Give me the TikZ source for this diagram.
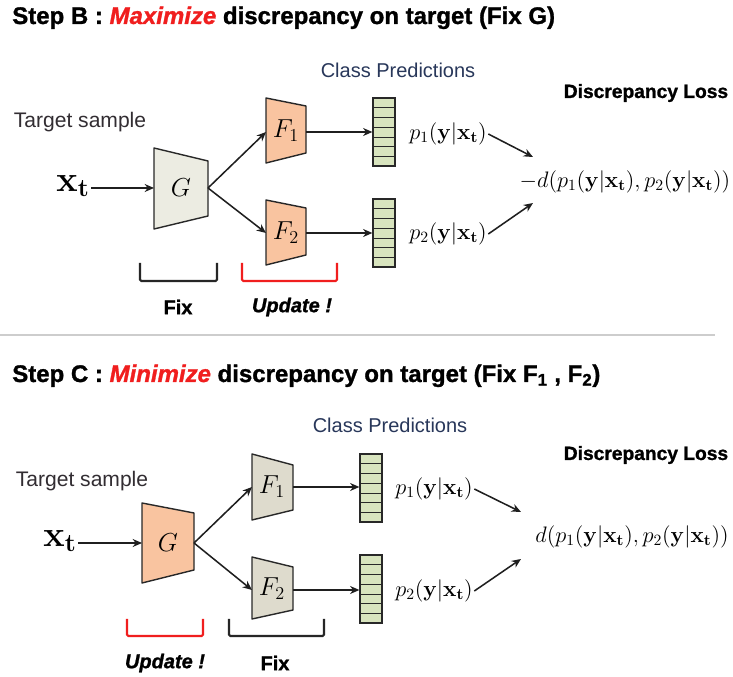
\RequirePackage{fix-cm}
\documentclass[tikz,border=0pt]{standalone}
\usepackage[no-math]{fontspec}
\setmainfont{Liberation Sans}
\newfontfamily\heavy[BoldFeatures={FakeBold=1.2},BoldItalicFeatures={FakeBold=1.2}]{Liberation Sans}
\usetikzlibrary{arrows.meta,calc}
\definecolor{salmon}{RGB}{249,196,160}
\definecolor{lgray}{RGB}{236,236,226}
\definecolor{mgray}{RGB}{222,219,205}
\definecolor{lgreen}{RGB}{216,228,190}
\definecolor{myred}{RGB}{240,30,30}
\definecolor{cpblue}{RGB}{40,55,90}
\definecolor{tsdark}{RGB}{50,45,50}
\definecolor{sepgray}{RGB}{205,205,205}
\definecolor{edge}{RGB}{40,40,40}
\tikzset{
  conn/.style={draw=black!88, line width=1.15pt, -{Stealth[length=7pt,width=6pt]}},
  trap/.style={draw=edge, line width=1.05pt, line join=round},
  bar/.style={draw=edge, fill=lgreen, line width=0.9pt, minimum width=16.5pt, minimum height=51pt, inner sep=0pt},
  cellline/.style={draw=edge, line width=0.6pt},
  brk/.style={line width=1.6pt, rounded corners=1pt},
  title/.style={anchor=base west, inner sep=0pt, font=\fontsize{18}{20}\selectfont\heavy\bfseries},
  cls/.style={font=\fontsize{15}{17}\selectfont, text=cpblue, inner sep=1pt},
  loss/.style={font=\fontsize{14.4}{16}\selectfont\heavy\bfseries, inner sep=1pt},
  ts/.style={font=\fontsize{15.8}{17}\selectfont, text=tsdark, inner sep=1pt},
  xtlab/.style={font=\fontsize{27}{30}\selectfont, inner sep=1pt},
  lab/.style={font=\fontsize{19.5}{22}\selectfont, inner sep=0pt},
  pl/.style={font=\fontsize{16.8}{18}\selectfont, inner sep=1pt},
  dl/.style={font=\fontsize{16.8}{19}\selectfont, inner sep=1pt},
  brklab/.style={font=\fontsize{15}{17}\selectfont\heavy\bfseries, inner sep=1pt},
  sepline/.style={draw=sepgray, line width=1.5pt}
}
\newcommand\cells[1]{%
  \foreach \k in {1,...,6}
    \draw[cellline] ($(#1.north west)!\k/7!(#1.south west)$) -- ($(#1.north east)!\k/7!(#1.south east)$);}
\begin{document}
\begin{tikzpicture}[x=0.75pt,y=-0.75pt]
\fill[white] (0,0) rectangle (733,677);
\path[use as bounding box] (0,0) rectangle (733,677);

% titles
\node[title] (tB) at (12,24) {Step B : \textcolor{myred}{\itshape Maximize} discrepancy on target (Fix G)};
\node[title] (tC) at (12,382) {Step C : \textcolor{myred}{\itshape Minimize} discrepancy on target (Fix F\textsubscript{1} , F\textsubscript{2})};

% separator
\draw[sepline] (0,335) -- (715,335);

% ================= Step B =================
\node[cls] (cpB) at (398,70) {Class Predictions};
\node[loss] (dlB) at (646,93) {Discrepancy Loss};
\node[ts] (tsB) at (80,122) {Target sample};
\node[xtlab] (xB) at (73,186) {$\mathbf{x_t}$};

\filldraw[trap, fill=lgray] (154,148) -- (208,161) -- (208,216) -- (154,229) -- cycle;
\node[lab] (GB) at (181,188) {$G$};
\coordinate (GBin) at (154,188);
\coordinate (GBout) at (208,188);

\filldraw[trap, fill=salmon] (266,98) -- (306,106) -- (306,153) -- (266,163) -- cycle;
\node[lab] (F1B) at (286,131) {$F_1$};
\coordinate (F1Bin) at (266,132);
\coordinate (F1Bout) at (306,132);

\filldraw[trap, fill=salmon] (266,200) -- (306,208) -- (306,255) -- (266,265) -- cycle;
\node[lab] (F2B) at (286,233) {$F_2$};
\coordinate (F2Bin) at (266,233);
\coordinate (F2Bout) at (306,233);

\node[bar] (b1B) at (384,132) {};
\cells{b1B}
\node[bar] (b2B) at (384,233) {};
\cells{b2B}

\node[pl] (p1B) at (448,134) {$p_1(\mathbf{y}|\mathbf{x_t})$};
\node[pl] (p2B) at (448,234) {$p_2(\mathbf{y}|\mathbf{x_t})$};
\node[dl] (dB) at (625,182) {$-d(p_1(\mathbf{y}|\mathbf{x_t}),p_2(\mathbf{y}|\mathbf{x_t}))$};
\coordinate (dBtop) at (533,157);
\coordinate (dBbot) at (533,203);

\draw[conn] (GBin -| xB.east) -- (GBin);
\draw[conn] (GBout) -- (F1Bin);
\draw[conn] (GBout) -- (F2Bin);
\draw[conn] (F1Bout) -- (F1Bout -| b1B.west);
\draw[conn] (F2Bout) -- (F2Bout -| b2B.west);
\draw[conn] (p1B.east) -- (dBtop);
\draw[conn] (p2B.east) -- (dBbot);

\draw[brk, draw=black!85] (140,263) -- (140,281) -- (217,281) -- (217,263);
\draw[brk, draw=myred] (242,263) -- (242,281) -- (337,281) -- (337,263);
\node[brklab] (fixB) at (178,307) {Fix};
\node[brklab] (updB) at (292,307) {\itshape Update !};

% ================= Step C =================
\node[cls] (cpC) at (390,425) {Class Predictions};
\node[loss] (dlC) at (646,455) {Discrepancy Loss};
\node[ts] (tsC) at (82,481) {Target sample};
\node[xtlab] (xC) at (60,541) {$\mathbf{x_t}$};

\filldraw[trap, fill=salmon] (142,503) -- (194,513) -- (194,570) -- (142,583) -- cycle;
\node[lab] (GC) at (168,543) {$G$};
\coordinate (GCin) at (142,543);
\coordinate (GCout) at (194,543);

\filldraw[trap, fill=mgray] (252,454) -- (293,465) -- (293,510) -- (252,520) -- cycle;
\node[lab] (F1C) at (272,487) {$F_1$};
\coordinate (F1Cin) at (252,487);
\coordinate (F1Cout) at (293,487);

\filldraw[trap, fill=mgray] (252,557) -- (293,567) -- (293,610) -- (252,619) -- cycle;
\node[lab] (F2C) at (272,589) {$F_2$};
\coordinate (F2Cin) at (252,590);
\coordinate (F2Cout) at (293,590);

\node[bar] (b1C) at (371,488) {};
\cells{b1C}
\node[bar] (b2C) at (371,589) {};
\cells{b2C}

\node[pl] (p1C) at (434,489) {$p_1(\mathbf{y}|\mathbf{x_t})$};
\node[pl] (p2C) at (434,591) {$p_2(\mathbf{y}|\mathbf{x_t})$};
\node[dl] (dC) at (632,537) {$d(p_1(\mathbf{y}|\mathbf{x_t}),p_2(\mathbf{y}|\mathbf{x_t}))$};
\coordinate (dCtop) at (521,512);
\coordinate (dCbot) at (521,559);

\draw[conn] (GCin -| xC.east) -- (GCin);
\draw[conn] (GCout) -- (F1Cin);
\draw[conn] (GCout) -- (F2Cin);
\draw[conn] (F1Cout) -- (F1Cout -| b1C.west);
\draw[conn] (F2Cout) -- (F2Cout -| b2C.west);
\draw[conn] (p1C.east) -- (dCtop);
\draw[conn] (p2C.east) -- (dCbot);

\draw[brk, draw=myred] (127,619) -- (127,636) -- (203,636) -- (203,619);
\draw[brk, draw=black!85] (229,619) -- (229,636) -- (324,636) -- (324,619);
\node[brklab] (updC) at (165,663) {\itshape Update !};
\node[brklab] (fixC) at (275,663) {Fix};
\end{tikzpicture}
\end{document}
